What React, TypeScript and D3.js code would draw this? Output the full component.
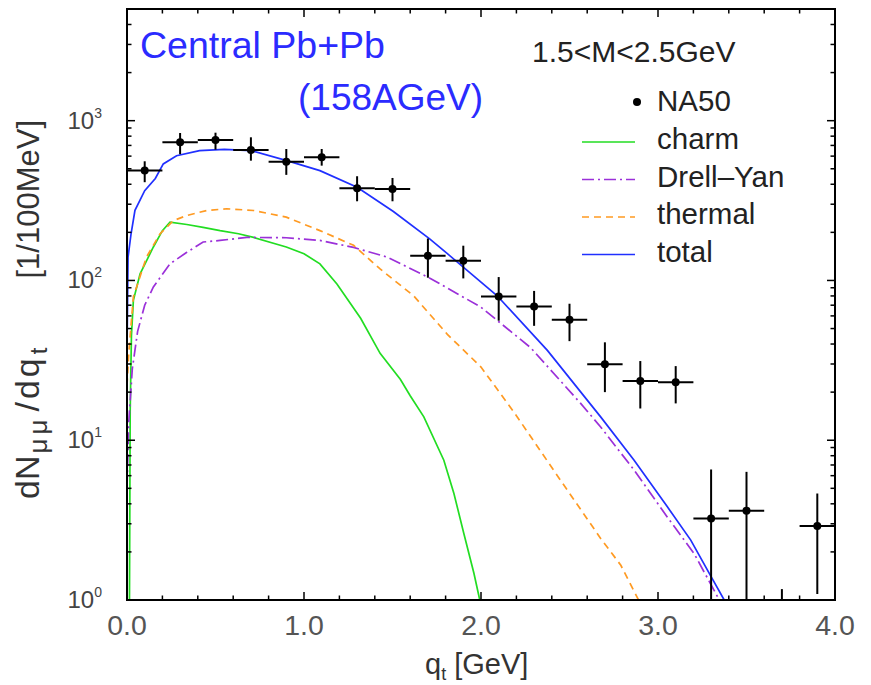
import React from 'react';
import * as d3 from 'd3';

const W = 871;
const H = 685;
const X0 = 127, X1 = 835, Y0 = 600, Y1 = 9;

// NA50 data
const naQ = [0.1, 0.3, 0.5, 0.7, 0.9, 1.1, 1.3, 1.5, 1.7, 1.9, 2.1, 2.3, 2.5, 2.7, 2.9, 3.1, 3.3, 3.5, 3.7, 3.9];
const naVal = [487, 732, 757, 656, 554, 590, 378, 374, 143, 133, 79.4, 68.8, 56.8, 29.9, 23.5, 23.1, 3.24, 3.62, 0.3, 2.9];
const naLo = [412, 617, 659, 562, 458, 523, 313, 313, 104, 103, 56, 52, 41.7, 20, 15.8, 17, 0.5, 0.5, 0.05, 1.09];
const naHi = [557, 837, 841, 787, 665, 665, 449, 438, 183, 165, 105, 86, 71.5, 41, 31.3, 29.1, 6.56, 6.34, 1.17, 4.64];
const naHalfWidth = 0.1;

// charm
const charmQ = [0.014, 0.018, 0.025, 0.036, 0.074, 0.149, 0.2, 0.243, 0.338, 0.43, 0.526, 0.63, 0.715, 0.9, 1.0, 1.09, 1.186, 1.32, 1.43, 1.545, 1.6, 1.677, 1.79, 1.847, 1.903, 1.96, 1.993];
const charmV = [1.0, 15, 45, 75, 110, 162, 205, 232, 224, 215, 205, 196, 186, 162, 147, 127, 95, 58, 35, 24, 19, 14, 7.5, 4.64, 2.61, 1.47, 1.0];

// Drell-Yan
const dyQ = [0.0, 0.01, 0.03, 0.06, 0.1, 0.149, 0.243, 0.338, 0.43, 0.526, 0.677, 0.9, 1.09, 1.28, 1.47, 1.714, 2.0, 2.28, 2.563, 2.676, 2.865, 3.053, 3.204, 3.317, 3.346];
const dyV = [5, 13, 28, 48, 70, 91, 127, 150, 174, 178, 186, 185, 178, 161, 140, 103, 68, 38, 17, 12.1, 6.5, 3.3, 1.95, 1.15, 1.0];

// thermal
const thQ = [0.0, 0.01, 0.036, 0.11, 0.187, 0.262, 0.338, 0.45, 0.564, 0.715, 0.9, 1.09, 1.28, 1.43, 1.62, 1.81, 2.0, 2.186, 2.45, 2.676, 2.79, 2.89];
const thV = [22, 35, 79, 140, 196, 237, 255, 274, 281, 274, 249, 205, 166, 118, 80, 46, 28.7, 15, 5.6, 2.43, 1.65, 1.0];

// total
const totQ = [0.0, 0.006, 0.023, 0.045, 0.1, 0.16, 0.205, 0.28, 0.41, 0.55, 0.7, 0.903, 1.09, 1.3, 1.505, 1.71, 1.81, 2.09, 2.375, 2.676, 2.865, 3.053, 3.185, 3.3, 3.374];
const totV = [36, 140, 196, 275, 365, 435, 536, 603, 649, 662, 650, 562, 487, 383, 270, 182, 147, 80.5, 36.5, 14, 7.5, 3.83, 2.37, 1.4, 1.0];

const xTicksMajor = [0, 1, 2, 3, 4];
const xTickLabels = ['0.0', '1.0', '2.0', '3.0', '4.0'];
const yTicksMajor = [1, 10, 100, 1000];
const yExpLabels = ['0', '1', '2', '3'];

const legendItems = [
  { label: 'charm', color: '#22dd22', dash: '' },
  { label: 'Drell–Yan', color: '#9b30d9', dash: '12,4,2,4' },
  { label: 'thermal', color: '#ff9a22', dash: '7,5' },
  { label: 'total', color: '#2030ff', dash: '' },
];

const FONT = '"Liberation Sans", Arial, Helvetica, sans-serif';

export default function App() {
  const x = d3.scaleLinear().domain([0, 4]).range([X0, X1]);
  const y = d3.scaleLog().domain([1, 5000]).range([Y0, Y1]);

  const line = d3
    .line<[number, number]>()
    .x((d) => x(d[0]))
    .y((d) => y(d[1]));

  const curves = [
    { q: charmQ, v: charmV, ...legendItems[0] },
    { q: dyQ, v: dyV, ...legendItems[1] },
    { q: thQ, v: thV, ...legendItems[2] },
    { q: totQ, v: totV, ...legendItems[3] },
  ];

  const xMinor = d3.range(0, 4.0001, 0.2).map((v) => +v.toFixed(2));
  const yMinor: number[] = [];
  for (let e = 0; e < 4; e++) {
    for (let m = 2; m <= 9; m++) {
      const v = m * Math.pow(10, e);
      if (v <= 5000) yMinor.push(v);
    }
  }

  return (
    <div style={{ position: 'absolute', left: 0, top: 0 }}>
      <svg width={W} height={H} style={{ display: 'block', background: '#fff' }} fontFamily={FONT}>
        <defs>
          <clipPath id="plot">
            <rect x={X0} y={Y1} width={X1 - X0} height={Y0 - Y1} />
          </clipPath>
        </defs>

        {/* curves */}
        <g clipPath="url(#plot)">
          {curves.map((c, i) => (
            <path
              key={i}
              d={line(c.q.map((qq, j) => [qq, c.v[j]] as [number, number])) || ''}
              fill="none"
              stroke={c.color}
              strokeWidth={1.7}
              strokeDasharray={c.dash || undefined}
            />
          ))}
          {/* data */}
          {naQ.map((q, i) => (
            <g key={i} stroke="#000" strokeWidth={2}>
              <line x1={x(q - naHalfWidth)} x2={x(q + naHalfWidth)} y1={y(naVal[i])} y2={y(naVal[i])} />
              <line x1={x(q)} x2={x(q)} y1={y(naLo[i])} y2={y(naHi[i])} />
              <circle cx={x(q)} cy={y(naVal[i])} r={4} fill="#000" stroke="none" />
            </g>
          ))}
        </g>

        {/* ticks */}
        <g stroke="#000" strokeWidth={1.5}>
          {xMinor.map((v, i) => {
            const major = Math.abs(v - Math.round(v)) < 1e-6;
            const len = major ? 8 : 4.5;
            return (
              <g key={i}>
                <line x1={x(v)} x2={x(v)} y1={Y0} y2={Y0 - len} />
                <line x1={x(v)} x2={x(v)} y1={Y1} y2={Y1 + len} />
              </g>
            );
          })}
          {yMinor.map((v, i) => (
            <g key={i}>
              <line x1={X0} x2={X0 + 4.5} y1={y(v)} y2={y(v)} />
              <line x1={X1} x2={X1 - 4.5} y1={y(v)} y2={y(v)} />
            </g>
          ))}
          {yTicksMajor.map((v, i) => (
            <g key={i}>
              <line x1={X0} x2={X0 + 8} y1={y(v)} y2={y(v)} />
              <line x1={X1} x2={X1 - 8} y1={y(v)} y2={y(v)} />
            </g>
          ))}
        </g>

        {/* frame */}
        <rect x={X0} y={Y1} width={X1 - X0} height={Y0 - Y1} fill="none" stroke="#000" strokeWidth={2} />

        {/* x tick labels */}
        {xTicksMajor.map((v, i) => (
          <text key={i} x={x(v)} y={635} textAnchor="middle" fontSize={28.5} fill="#555">
            {xTickLabels[i]}
          </text>
        ))}

        {/* y tick labels */}
        {yTicksMajor.map((v, i) => (
          <text key={i} x={102} y={y(v) + 8} textAnchor="end" fontSize={24} fill="#444">
            10
            <tspan dy={-11} fontSize={14}>
              {yExpLabels[i]}
            </tspan>
          </text>
        ))}

        {/* x title */}
        <text x={425} y={674} fontSize={29} fill="#333">
          q<tspan dy={6} fontSize={18}>t</tspan>
          <tspan dy={-6} dx={8}>[GeV]</tspan>
        </text>

        {/* y title */}
        <text transform="translate(39,499) rotate(-90)" fontSize={34} fill="#333">
          dN<tspan dy={8} dx={2} fontSize={26} letterSpacing={4}>μμ</tspan>
          <tspan dy={-8} dx={4} letterSpacing={3}>/dq</tspan>
          <tspan dy={8} dx={1} fontSize={24}>t</tspan>
        </text>
        <text transform="translate(39,120) rotate(-90)" fontSize={31} fill="#333" textAnchor="end">
          [1/100MeV]
        </text>

        {/* annotations */}
        <text x={140} y={58} fontSize={37.5} fill="#2b2bff">
          Central Pb+Pb
        </text>
        <text x={298} y={110} fontSize={37} fill="#2b2bff">
          (158AGeV)
        </text>
        <text x={532} y={62} fontSize={30} fill="#222">
          1.5&lt;M&lt;2.5GeV
        </text>

        {/* legend */}
        <circle cx={637} cy={102} r={4} fill="#000" />
        <text x={657} y={111} fontSize={29.5} fill="#222">
          NA50
        </text>
        {legendItems.map((it, i) => {
          const base = 149 + i * 37.5;
          return (
            <g key={i}>
              <line
                x1={582}
                x2={635}
                y1={base - 7}
                y2={base - 7}
                stroke={it.color}
                strokeWidth={1.7}
                strokeDasharray={it.dash || undefined}
              />
              <text x={657} y={base} fontSize={29.5} fill="#222">
                {it.label}
              </text>
            </g>
          );
        })}
      </svg>
    </div>
  );
}
